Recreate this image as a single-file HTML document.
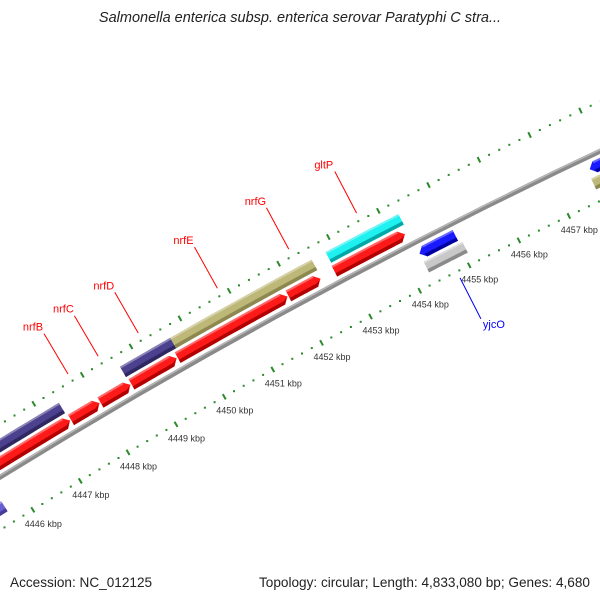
<!DOCTYPE html>
<html><head><meta charset="utf-8">
<style>
html,body{margin:0;padding:0;background:#fff;}
#wrap{position:relative;width:600px;height:600px;overflow:hidden;font-family:"Liberation Sans",sans-serif;}
svg{position:absolute;left:0;top:0;}
</style></head>
<body>
<div id="wrap">
<svg id="map" width="600" height="600" viewBox="0 0 600 600">
  <text x="300" y="22" text-anchor="middle" font-style="italic" font-size="14.5" fill="#222" font-family="Liberation Sans, sans-serif">Salmonella enterica subsp. enterica serovar Paratyphi C stra...</text>
  <text x="10" y="587" font-size="13.6" fill="#222" font-family="Liberation Sans, sans-serif">Accession: NC_012125</text>
  <text x="590" y="587" text-anchor="end" font-size="13.6" fill="#222" font-family="Liberation Sans, sans-serif">Topology: circular; Length: 4,833,080 bp; Genes: 4,680</text>
</svg>
</div>
<script>
// ---- data ----
const tickKbp = [4443,4444,4445,4446,4447,4448,4449,4450,4451,4452,4453,4454,4455,4456,4457,4458,4459,4460];
const fwdStart = [4444000,4447420,4448030,4448670,4449620,4451880,4452810];
const fwdEnd   = [4447400,4448010,4448650,4449600,4451860,4452530,4454230];
const outerStart = [4444000,4448650,4449680,4452830];
const outerEnd   = [4447390,4449680,4452550,4454290];
const outerKind  = ["purple","purple","khaki","cyan"];
const revStart = [4454300,4457700];
const revEnd   = [4455020,4458800];
const inner2Start = [4444000,4454300,4457650];
const inner2End   = [4445600,4455080,4459300];
const inner2Kind  = ["slate","gray","khaki"];
const labelNames = ["nrfB","nrfC","nrfD","nrfE","nrfG","gltP","yjcO"];
const labelBp    = [4447790,4448410,4449230,4450840,4452280,4453640,4454750];
const labelSide  = ["out","out","out","out","out","out","in"];

// ---- geometry ----
const cx=3218, cy=5684, R=6121, k=9.15e-6, a0=-2.086;
const svg=document.getElementById('map');
const NS='http://www.w3.org/2000/svg';
function P(bp,r){const a=a0+(bp-4450000)*k;return [cx+r*Math.cos(a),cy+r*Math.sin(a)];}
function arcPts(b1,b2,r){const pts=[];const n=12;for(let i=0;i<=n;i++){pts.push(P(b1+(b2-b1)*i/n,r));}return pts;}
function poly(pts,fill){const p=document.createElementNS(NS,'polygon');p.setAttribute('points',pts.map(q=>q[0].toFixed(1)+','+q[1].toFixed(1)).join(' '));p.setAttribute('fill',fill);svg.appendChild(p);return p;}
const colors={red:['#ff1a1a','#b00000'],purple:['#4b418f','#2e2760'],khaki:['#bdb878','#8d8850'],cyan:['#1ff0f0','#00a8a8'],blue:['#1a1aff','#0000a0'],gray:['#c8c8c8','#8a8a8a'],slate:['#6a5fd0','#463c9a']};
const HB=105;
function feature(b1,b2,r1,r2,kind,dir,name){
  const g=document.createElementNS(NS,'g');
  
  
  svg.appendChild(g);
  const c=colors[kind];const rm=(r1+r2)/2;let pts;
  if(dir===1){pts=arcPts(b1,b2-HB,r2).concat([P(b2,rm)]).concat(arcPts(b2-HB,b1,r1));}
  else if(dir===-1){pts=[P(b1,rm)].concat(arcPts(b1+HB,b2,r2)).concat(arcPts(b2,b1+HB,r1));}
  else{pts=arcPts(b1,b2,r2).concat(arcPts(b2,b1,r1));}
  g.appendChild(poly(pts,c[0]));
  const rs=r1+(r2-r1)*0.3;let sh;
  if(dir===1){sh=arcPts(b1,b2-HB,rs).concat([P(b2-HB*0.3,rs+(rm-rs)*0.7)]).concat(arcPts(b2-HB,b1,r1));}
  else if(dir===-1){sh=arcPts(b1+HB*0.7,b2,rs).concat(arcPts(b2,b1+HB,r1));}
  else{sh=arcPts(b1,b2,rs).concat(arcPts(b2,b1,r1));}
  g.appendChild(poly(sh,c[1]));
  let hl=arcPts(b1+(dir===-1?HB:0),b2-(dir===1?HB:0),r2).concat(arcPts(b2-(dir===1?HB:0),b1+(dir===-1?HB:0),r2-2));
  g.appendChild(poly(hl,'rgba(255,255,255,0.35)'));
}

// backbone
(function(){
  const pts=arcPts(4443000,4460000,R);
  const b=document.createElementNS(NS,'path');
  b.setAttribute('d','M'+pts.map(q=>q[0].toFixed(1)+' '+q[1].toFixed(1)).join(' L'));
  b.setAttribute('stroke','#8a8a8a');b.setAttribute('stroke-width','5');b.setAttribute('fill','none');
  
  
  svg.appendChild(b);
  const b2=document.createElementNS(NS,'path');
  b2.setAttribute('d','M'+arcPts(4443000,4460000,R+1.5).map(q=>q[0].toFixed(1)+' '+q[1].toFixed(1)).join(' L'));
  b2.setAttribute('stroke','#b8b8b8');b2.setAttribute('stroke-width','1.5');b2.setAttribute('fill','none');
  
  
  svg.appendChild(b2);
})();

// tick rings
const green='#2a8a2a';
function ring(r,labels){
  for(let i=0;i<tickKbp.length;i++){
    const kb=tickKbp[i];
    const [x1,y1]=P(kb*1000,r-3),[x2,y2]=P(kb*1000,r+3);
    const t=document.createElementNS(NS,'line');
    t.setAttribute('x1',x1);t.setAttribute('y1',y1);t.setAttribute('x2',x2);t.setAttribute('y2',y2);
    t.setAttribute('stroke',green);t.setAttribute('stroke-width','2');
    
    
    svg.appendChild(t);
    for(let j=1;j<5;j++){
      const [dx,dy]=P(kb*1000+j*200,r);
      const d=document.createElementNS(NS,'rect');
      d.setAttribute('x',(dx-1).toFixed(1));d.setAttribute('y',(dy-1).toFixed(1));d.setAttribute('width','2');d.setAttribute('height','2');d.setAttribute('fill',green);
      
      
      svg.appendChild(d);
    }
    if(labels){
      const [lx,ly]=P(kb*1000,r);
      if(lx<10) continue;
      const tx=document.createElementNS(NS,'text');
      tx.setAttribute('x',(lx-8).toFixed(1));tx.setAttribute('y',(ly+17).toFixed(1));
      tx.setAttribute('font-size','9');tx.setAttribute('fill','#333');tx.setAttribute('font-family','Liberation Sans, sans-serif');
      tx.textContent=kb+' kbp';
      
      
      svg.appendChild(tx);
    }
  }
}
ring(R+45,false);
ring(R-45,true);

// features
for(let i=0;i<fwdStart.length;i++) feature(fwdStart[i],fwdEnd[i],R+6,R+18,'red',1,'forward-gene-'+i);
for(let i=0;i<outerStart.length;i++) feature(outerStart[i],outerEnd[i],R+21,R+33,outerKind[i],0,'forward-feature-'+i);
for(let i=0;i<revStart.length;i++) feature(revStart[i],revEnd[i],R-18,R-6,'blue',-1,'reverse-gene-'+i);
for(let i=0;i<inner2Start.length;i++) feature(inner2Start[i],inner2End[i],R-33,R-21,inner2Kind[i],0,'reverse-feature-'+i);

// gene labels
for(let i=0;i<labelNames.length;i++){
  const out=labelSide[i]==='out';
  const [x1,y1]=P(labelBp[i],out?R+53:R-52);
  const [x2,y2]=P(labelBp[i],out?R+100:R-98);
  const col=out?'#ff0000':'#0000ff';
  const l=document.createElementNS(NS,'line');
  l.setAttribute('x1',x1);l.setAttribute('y1',y1);l.setAttribute('x2',x2);l.setAttribute('y2',y2);
  l.setAttribute('stroke',col);l.setAttribute('stroke-width','1');
  
  
  svg.appendChild(l);
  const t=document.createElementNS(NS,'text');
  if(out){t.setAttribute('x',(x2-11).toFixed(1));t.setAttribute('y',(y2-3).toFixed(1));t.setAttribute('text-anchor','middle');}
  else{t.setAttribute('x',(x2+2).toFixed(1));t.setAttribute('y',(y2+9).toFixed(1));}
  t.setAttribute('font-size','11');t.setAttribute('fill',col);t.setAttribute('font-family','Liberation Sans, sans-serif');
  t.textContent=labelNames[i];
  
  
  svg.appendChild(t);
}
</script>
</body></html>
